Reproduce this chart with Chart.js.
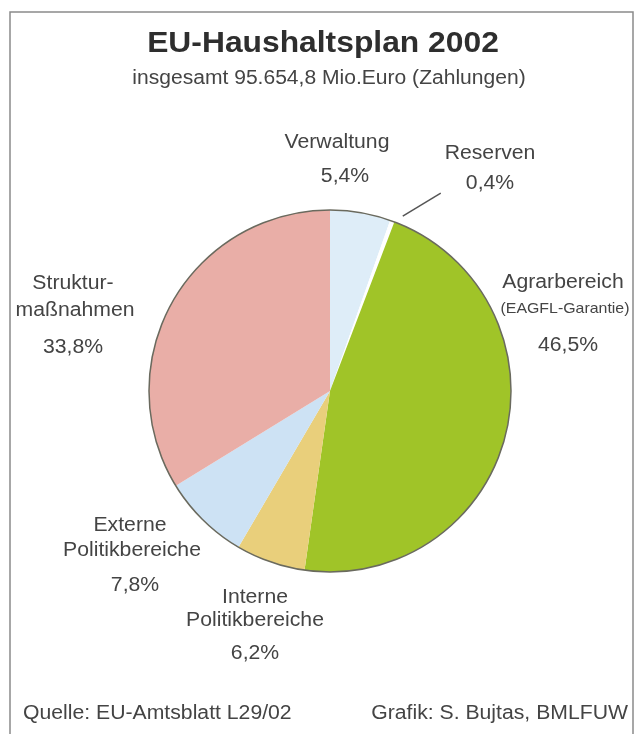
<!DOCTYPE html>
<html>
<head>
<meta charset="utf-8">
<script src="https://cdn.jsdelivr.net/npm/chart.js@4.4.1/dist/chart.umd.min.js"></script>
<style>
  html, body { margin: 0; padding: 0; background: #fff; }
  canvas { display: block; }
</style>
</head>
<body>
<canvas id="chart" width="640" height="734"></canvas>
<script>
// data
const categories = ['Verwaltung', 'Reserven', 'Agrarbereich', 'Interne Politikbereiche', 'Externe Politikbereiche', 'Strukturmaßnahmen'];
const shares = [5.4, 0.4, 46.5, 6.2, 7.8, 33.8];
const sliceColors = ['#deedf8', '#ffffff', '#a0c428', '#e9cf7b', '#cde2f4', '#e9aea7'];

const titleText = 'EU-Haushaltsplan 2002';
const subtitleText = 'insgesamt 95.654,8 Mio.Euro (Zahlungen)';
const sourceText = 'Quelle: EU-Amtsblatt L29/02';
const creditText = 'Grafik: S. Bujtas, BMLFUW';

// label text per slice (name lines, optional note), percent comes from shares
const labelNames = [['Verwaltung'], ['Reserven'], ['Agrarbereich'], ['Interne', 'Politikbereiche'], ['Externe', 'Politikbereiche'], ['Struktur-', 'maßnahmen']];
const labelNotes = [null, null, '(EAGFL-Garantie)', null, null, null];

// layout: label line positions relative to pie centre (dx, dy per line)
const labelLayout = [
  [[7, -249], [15, -215]],
  [[160, -238], [160, -208]],
  [[233, -109], [235, -82], [238, -46]],
  [[-75, 206], [-75, 229], [-75, 262]],
  [[-200, 134], [-198, 159], [-195, 194]],
  [[-257, -108], [-255, -81], [-257, -44]]
];

const FONT = '"Liberation Sans", Arial, sans-serif';
const SX = 1.06;

function pct(v) { return v.toFixed(1).replace('.', ',') + '%'; }

function txt(ctx, s, x, y, font, color, align, sx) {
  ctx.save();
  ctx.font = font;
  ctx.fillStyle = color;
  ctx.textAlign = align || 'center';
  ctx.translate(x, y);
  ctx.scale(sx || SX, 1);
  ctx.fillText(s, 0, 0);
  ctx.restore();
}

const decor = {
  id: 'decor',
  beforeDraw(chart) {
    const ctx = chart.ctx;
    ctx.save();
    ctx.fillStyle = '#fff';
    ctx.fillRect(0, 0, chart.width, chart.height);
    ctx.strokeStyle = '#8a8a8a';
    ctx.lineWidth = 1.5;
    ctx.strokeRect(10, 12, 623, 760);
    ctx.restore();
  },
  afterDatasetsDraw(chart) {
    const ctx = chart.ctx;
    const arcs = chart.getDatasetMeta(0).data;
    const a0 = arcs[0];
    const cx = a0.x, cy = a0.y, r = a0.outerRadius;

    // outer rim
    ctx.save();
    ctx.strokeStyle = '#6a6a5e';
    ctx.lineWidth = 1.5;
    ctx.beginPath();
    ctx.arc(cx, cy, r, 0, Math.PI * 2);
    ctx.stroke();

    // leader line for the thin Reserven slice
    const res = arcs[1];
    const ang = res.endAngle + 0.03;
    const sx0 = cx + Math.cos(ang) * (r + 8.5), sy0 = cy + Math.sin(ang) * (r + 8.5);
    ctx.strokeStyle = '#555';
    ctx.lineWidth = 1.5;
    ctx.beginPath();
    ctx.moveTo(sx0, sy0);
    ctx.lineTo(sx0 + 38, sy0 - 23);
    ctx.stroke();
    ctx.restore();

    // slice labels
    ctx.save();
    ctx.textBaseline = 'middle';
    labelNames.forEach((lines, i) => {
      const pos = labelLayout[i];
      let k = 0;
      lines.forEach(l => { txt(ctx, l, cx + pos[k][0], cy + pos[k][1], '20px ' + FONT, '#444'); k++; });
      if (labelNotes[i]) { txt(ctx, labelNotes[i], cx + pos[k][0], cy + pos[k][1], '15px ' + FONT, '#444'); k++; }
      txt(ctx, pct(shares[i]), cx + pos[k][0], cy + pos[k][1], '20px ' + FONT, '#444');
    });
    ctx.restore();

    // titles and footer
    ctx.save();
    ctx.textBaseline = 'alphabetic';
    txt(ctx, titleText, 323, 52, 'bold 30px ' + FONT, '#2e2e2e');
    txt(ctx, subtitleText, 329, 84, '19.5px ' + FONT, '#444', 'center', 1.08);
    txt(ctx, sourceText, 23, 719, '20px ' + FONT, '#444', 'left');
    txt(ctx, creditText, 628, 719, '20px ' + FONT, '#444', 'right');
    ctx.restore();
  }
};

new Chart(document.getElementById('chart'), {
  type: 'pie',
  data: {
    labels: categories,
    datasets: [{
      data: shares,
      backgroundColor: sliceColors,
      borderWidth: 0
    }]
  },
  options: {
    responsive: false,
    devicePixelRatio: 1,
    animation: false,
    layout: { padding: { left: 149, right: 129, top: 210, bottom: 162 } },
    plugins: {
      legend: { display: false },
      tooltip: { enabled: false }
    }
  },
  plugins: [decor]
});
</script>
</body>
</html>
